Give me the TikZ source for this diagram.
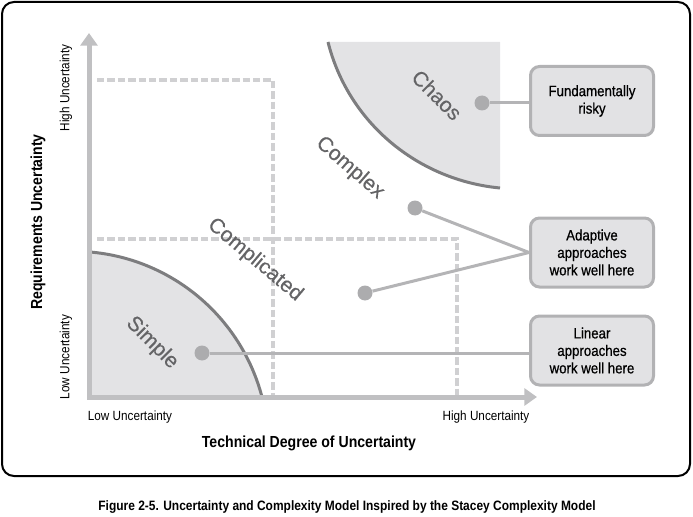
\documentclass[tikz,border=0pt]{standalone}
\usepackage{fontspec}
\setmainfont{Liberation Sans}
\newfontfamily\condfont{Liberation Sans}[FakeStretch=0.88]
\newfontfamily\notefont{Liberation Sans}[FakeStretch=0.88, FakeBold=0.6]
\newfontfamily\zonefont{Liberation Sans}[FakeBold=0.3]
\usepackage{tikz}
\usetikzlibrary{arrows.meta, positioning, calc}

\definecolor{axisgray}{RGB}{192,192,194}
\definecolor{dashgray}{RGB}{208,208,210}
\definecolor{zonefill}{RGB}{227,227,229}
\definecolor{edgegray}{RGB}{125,125,127}
\definecolor{labelgray}{RGB}{100,100,102}
\definecolor{dotgray}{RGB}{172,172,174}
\definecolor{leadgray}{RGB}{180,180,182}
\definecolor{boxfill}{RGB}{226,226,228}
\definecolor{boxedge}{RGB}{178,178,180}

\begin{document}
\begin{tikzpicture}[
        x=0.75pt, y=-0.75pt,
        axis/.style={line width=3.75pt, axisgray, {Triangle[length=9.5pt, width=12.75pt]}-{Triangle[length=9.5pt, width=12.75pt]}},
        gridline/.style={dashgray, line width=2.4pt, dash pattern=on 5.6pt off 2.2pt},
        zone/.style={fill=zonefill, draw=none},
        zonerim/.style={edgegray, line width=2.25pt},
        zonelabel/.style={text=labelgray, font=\zonefont\fontsize{15.75}{18}\selectfont, inner sep=0pt},
        dot/.style={circle, fill=dotgray, inner sep=0pt, minimum size=11.25pt},
        leader/.style={leadgray, line width=2.25pt},
        notebox/.style={draw=boxedge, fill=boxfill, line width=2.25pt, rounded corners=6.75pt,
            minimum width=92.25pt, minimum height=51.75pt, align=center, inner sep=0pt,
            font=\notefont\fontsize{11.3}{13.1}\selectfont},
        ticklabel/.style={font=\condfont\fontsize{10}{12}\selectfont, inner sep=0pt},
        axistitle/.style={font=\condfont\bfseries\fontsize{12}{14}\selectfont, inner sep=0pt},
    ]
        \useasboundingbox (0,0) rectangle (693,517);

        % Frame
        \draw[line width=1.5pt, rounded corners=9pt] (2,2) rectangle (690,476);

        % Zones
        \fill[zone] (90,252) .. controls (172,259) and (241,317) .. (262,397) -- (89,397) -- cycle;
        \fill[zone] (328,42) .. controls (348,122) and (417,180) .. (500,188) -- (500,42) -- cycle;

        % Grid
        \draw[gridline] (97,80) -- (273,80) -- (273,395);
        \draw[gridline] (97,239) -- (457,239) -- (457,395);

        % Zone edges
        \draw[zonerim] (90,252) .. controls (172,259) and (241,317) .. (262,397);
        \draw[zonerim] (328,42) .. controls (348,122) and (417,180) .. (500,188);

        % Axes
        \draw[axis] (89,33) -- (89,397) -- (537,397);

        % Zone names
        \node[zonelabel, rotate=-45] (chaos) at (437,95) {Chaos};
        \node[zonelabel, rotate=-41] (complex) at (350,168) {Complex};
        \node[zonelabel, rotate=-40] (complicated) at (255,260) {Complicated};
        \node[zonelabel, rotate=-45] (simple) at (152,343) {Simple};

        % Notes
        \node[notebox] (riskbox) at (592,101) {Fundamentally\\risky};
        \node[notebox] (adaptbox) at (592,252.5) {Adaptive\\approaches\\work well here};
        \node[notebox] (linearbox) at (592,350.5) {Linear\\approaches\\work well here};

        \node[dot] (chaosdot) at (482,103) {};
        \node[dot] (complexdot) at (415,208) {};
        \node[dot] (compdot) at (365,293) {};
        \node[dot] (simpledot) at (202,353) {};

        \draw[leader] (chaosdot) -- (chaosdot -| riskbox.west);
        \draw[leader] (complexdot) -- (adaptbox.west);
        \draw[leader] (compdot) -- (adaptbox.west);
        \draw[leader] (simpledot) -- (simpledot -| linearbox.west);

        % Axis labels
        \node[axistitle, rotate=90] (ytitle) at (38,222) {Requirements Uncertainty};
        \node[ticklabel, rotate=90] (yhigh) at (66,88) {High Uncertainty};
        \node[ticklabel, rotate=90] (ylow) at (66,357) {Low Uncertainty};
        \node[ticklabel] (xlow) at (130,417) {Low Uncertainty};
        \node[ticklabel] (xhigh) at (486,417) {High Uncertainty};
        \node[axistitle] (xtitle) at (309,443) {Technical Degree of Uncertainty};

        % Caption
        \node[font=\condfont\bfseries\fontsize{10.2}{12}\selectfont, inner sep=0pt] (caption) at (347,507)
            {Figure 2-5. Uncertainty and Complexity Model Inspired by the Stacey Complexity Model};
    \end{tikzpicture}
\end{document}
